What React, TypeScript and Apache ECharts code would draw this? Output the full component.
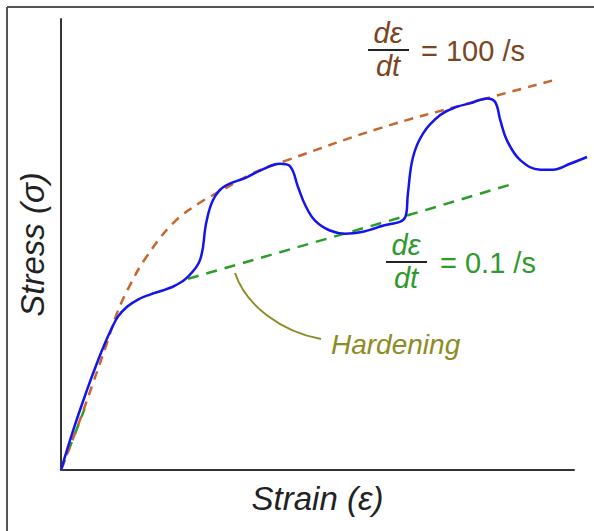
import React, { useEffect, useRef } from "react";
import * as echarts from "echarts";

// Strain (x) and stress (y) readings, arbitrary units (axis drawn 0–100)
const measuredCurve: [number, number][] = [
  [0, 0], [2.34, 8.67], [5.01, 17.56], [6.96, 23.56], [8.38, 27.6], [9.75, 31.1],
  [11.1, 34.0], [12.87, 36.2], [15.0, 37.8], [17.35, 38.9], [20.3, 40.0], [22.22, 40.89],
  [24.56, 42.67],
  [27.1, 46.6], [28.3, 54.8], [29.6, 59.8], [31.6, 62.7], [36.2, 64.9], [38.8, 66.4],
  [42.7, 67.9], [44.6, 67.4], [46.2, 62.7], [47.6, 58.7], [49.5, 55.3], [52.4, 53.1],
  [55.4, 52.4], [58.3, 52.7], [62.2, 54.0], [67.1, 56.1], [67.6, 61.3], [68.6, 69.4],
  [70.6, 74.7], [73.9, 78.7], [77.1, 80.5], [79.7, 81.3], [83.0, 82.4], [84.6, 81.6],
  [85.6, 77.6], [86.9, 73.1], [89.5, 68.7], [93.4, 66.6], [95.9, 66.6], [99.2, 67.9],
  [102.5, 69.4],
];

const fastRateCurve: [number, number][] = [
  [0, 0], [3.5, 10.5], [6.0, 18.5], [8.91, 28.0], [11.0, 35.0], [13.45, 41.0],
  [16.5, 47.0], [21.8, 54.7], [27.1, 59.3], [31.0, 61.8], [37.4, 65.8], [44.1, 68.7],
  [62.2, 75.8], [79.7, 81.4], [95.9, 86.4],
];

const slowRateCurve: ([number, number] | null)[] = [
  [0, 0], [3.7, 10.9], [4.6, 13.6], null,
  [24.76, 42.4], [67.1, 56.3], [88.5, 63.6],
];

const axisExtent = [0, 100];
const dataExtentX = [0, 102.5];
const yRange = [0, 100];

const FONT = "Liberation Sans";
const FS = 29;
const AXIS_FS = 33;

export default function App() {
  const ref = useRef<HTMLDivElement>(null);
  useEffect(() => {
    if (!ref.current) return;
    const chart = echarts.init(ref.current, null, { renderer: "svg" });
    const frac = (cx: number, cy: number, color: string, rhs: string, rx: number) => [
      { type: "text", x: cx, y: cy - 17, style: { text: "dε", fill: color, font: `italic ${FS}px "${FONT}"`, align: "center", verticalAlign: "middle" } },
      { type: "line", shape: { x1: cx - 20, y1: cy, x2: cx + 21, y2: cy }, style: { stroke: "#222", lineWidth: 2 } },
      { type: "text", x: cx, y: cy + 16, style: { text: "dt", fill: color, font: `italic ${FS}px "${FONT}"`, align: "center", verticalAlign: "middle" } },
      { type: "text", x: rx, y: cy + 1, style: { text: rhs, fill: color, font: `${FS}px "${FONT}"`, align: "left", verticalAlign: "middle" } },
    ];
    const hidden = { axisLine: { show: false }, axisTick: { show: false }, axisLabel: { show: false }, splitLine: { show: false } };
    chart.setOption({
      animation: false,
      backgroundColor: "#fff",
      grid: [
        { left: 61, top: 19, right: 7, bottom: 61, outerBoundsMode: "none" },
        { left: 61, top: 19, right: 20, bottom: 61, outerBoundsMode: "none" },
      ],
      xAxis: [
        { type: "value", gridIndex: 0, min: dataExtentX[0], max: dataExtentX[1], ...hidden },
        {
          type: "value", gridIndex: 1, min: axisExtent[0], max: axisExtent[1],
          axisLine: { lineStyle: { color: "#333", width: 2 } },
          axisTick: { show: false }, axisLabel: { show: false }, splitLine: { show: false },
          name: "Strain (ε)", nameLocation: "middle", nameGap: 12,
          nameTextStyle: { fontFamily: FONT, fontStyle: "italic", fontSize: AXIS_FS, color: "#222", verticalAlign: "top" },
        },
      ],
      yAxis: [
        {
          type: "value", gridIndex: 0, min: yRange[0], max: yRange[1],
          axisLine: { lineStyle: { color: "#333", width: 2 } },
          axisTick: { show: false }, axisLabel: { show: false }, splitLine: { show: false },
          name: "Stress (σ)", nameLocation: "middle", nameGap: 12,
          nameTextStyle: { fontFamily: FONT, fontStyle: "italic", fontSize: AXIS_FS, color: "#222" },
        },
        { type: "value", gridIndex: 1, min: yRange[0], max: yRange[1], ...hidden },
      ],
      series: [
        {
          type: "line", data: slowRateCurve, showSymbol: false, smooth: false, z: 2,
          lineStyle: { color: "#2a9d2a", width: 2.5, type: [11, 8] },
        },
        {
          type: "line", data: fastRateCurve, showSymbol: false, smooth: 0.4, z: 2,
          lineStyle: { color: "#c5662a", width: 2.5, type: [9, 7] },
        },
        {
          type: "line", data: measuredCurve, showSymbol: false, smooth: 0.4, z: 3,
          lineStyle: { color: "#1414ee", width: 2.5 },
        },
      ],
      graphic: [
        { type: "line", shape: { x1: 7, y1: 7, x2: 594, y2: 7 }, style: { stroke: "#555", lineWidth: 2 } },
        { type: "line", shape: { x1: 7, y1: 7, x2: 7, y2: 531 }, style: { stroke: "#555", lineWidth: 2 } },
        ...frac(388, 50, "#7a4522", "= 100 /s", 421),
        ...frac(406, 262, "#2e9a2e", "= 0.1 /s", 440),
        {
          type: "bezierCurve",
          shape: { x1: 235, y1: 273, cpx1: 246, cpy1: 306, cpx2: 282, cpy2: 332, x2: 321, y2: 339 },
          style: { stroke: "#8c8c24", lineWidth: 2, fill: "none" },
        },
        { type: "text", x: 331, y: 344, style: { text: "Hardening", fill: "#8c8c24", font: `italic 28px "${FONT}"`, align: "left", verticalAlign: "middle" } },
      ],
    });
    return () => chart.dispose();
  }, []);
  return <div ref={ref} style={{ position: "absolute", left: 0, top: 0, width: 594, height: 531 }} />;
}
